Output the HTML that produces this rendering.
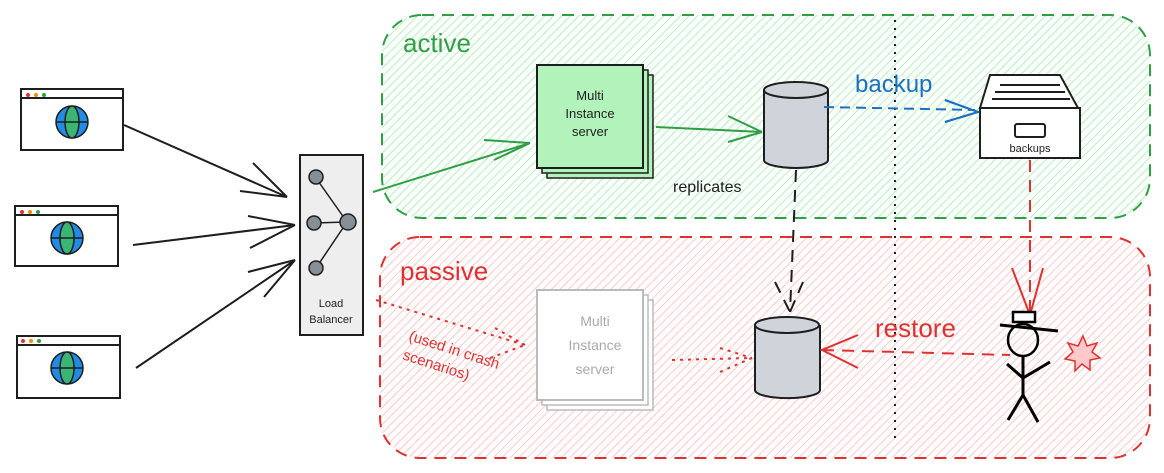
<!DOCTYPE html>
<html><head><meta charset="utf-8"><style>body{margin:0;background:#fff}svg{display:block}text{font-family:"Liberation Sans",sans-serif}</style></head><body>
<svg width="1164" height="473" viewBox="0 0 1164 473" xmlns="http://www.w3.org/2000/svg">
<defs>
<pattern id="hg" width="6" height="6" patternUnits="userSpaceOnUse" patternTransform="rotate(45)"><rect width="6" height="6" fill="#fff"/><line x1="0" y1="0" x2="0" y2="6" stroke="#b2f2bb" stroke-width="2"/></pattern>
<pattern id="hr" width="6" height="6" patternUnits="userSpaceOnUse" patternTransform="rotate(45)"><rect width="6" height="6" fill="#fff"/><line x1="0" y1="0" x2="0" y2="6" stroke="#ffc9c9" stroke-width="2"/></pattern>
</defs>
<rect x="382" y="15" width="768" height="203" rx="40" fill="url(#hg)" stroke="#2f9e44" stroke-width="2" stroke-dasharray="12 8"/>
<rect x="380" y="237" width="770" height="221" rx="40" fill="url(#hr)" stroke="#e03131" stroke-width="2" stroke-dasharray="12 8"/>
<line x1="895" y1="20" x2="895" y2="440" stroke="#1e1e1e" stroke-width="2" stroke-dasharray="2 6"/>
<text x="403" y="52" font-size="26" fill="#2f9e44">active</text>
<text x="400" y="280" font-size="26" fill="#e03131">passive</text>
<g stroke="#1e1e1e" stroke-width="2" fill="#fff">
<rect x="21" y="89" width="102" height="61"/><line x1="21" y1="98" x2="123" y2="98"/>
<rect x="15" y="206" width="103" height="60"/><line x1="15" y1="215" x2="118" y2="215"/>
<rect x="17" y="336" width="103" height="62"/><line x1="17" y1="345" x2="120" y2="345"/>
</g>
<g stroke="none">
<circle cx="28" cy="95" r="2" fill="#e03131"/><circle cx="36" cy="95" r="2" fill="#f08c00"/><circle cx="44" cy="95" r="2" fill="#2f9e44"/>
<circle cx="22" cy="212" r="2" fill="#e03131"/><circle cx="30" cy="212" r="2" fill="#f08c00"/><circle cx="38" cy="212" r="2" fill="#2f9e44"/>
<circle cx="23" cy="341" r="2" fill="#e03131"/><circle cx="31" cy="341" r="2" fill="#f08c00"/><circle cx="39" cy="341" r="2" fill="#2f9e44"/>
</g>
<g stroke="#1e1e1e" stroke-width="1.5">
<circle cx="72" cy="122" r="16" fill="#228be6"/><ellipse cx="72" cy="122" rx="7" ry="16" fill="#40c057" fill-opacity=".8"/><line x1="56" y1="122" x2="88" y2="122"/>
<circle cx="67" cy="238" r="16" fill="#228be6"/><ellipse cx="67" cy="238" rx="7" ry="16" fill="#40c057" fill-opacity=".8"/><line x1="51" y1="238" x2="83" y2="238"/>
<circle cx="67" cy="368" r="16" fill="#228be6"/><ellipse cx="67" cy="368" rx="7" ry="16" fill="#40c057" fill-opacity=".8"/><line x1="51" y1="368" x2="83" y2="368"/>
</g>
<g stroke="#1e1e1e" stroke-width="2" fill="none">
<path d="M124 125 L287 197 M253 163 L287 197 M240 191 L287 197"/>
<path d="M133 245 L295 225 M248 216 L295 225 M250 248 L295 225"/>
<path d="M136 368 L295 260 M248 272 L295 260 M264 297 L295 260"/>
</g>
<rect x="300" y="155" width="63" height="180" fill="#eee" stroke="#1e1e1e" stroke-width="2"/>
<g stroke="#1e1e1e" stroke-width="1.5" fill="#868e96">
<line x1="347" y1="222" x2="316" y2="178"/><line x1="347" y1="222" x2="314" y2="223"/><line x1="347" y1="222" x2="316" y2="268"/>
<circle cx="316" cy="177" r="7"/><circle cx="314" cy="223" r="7"/><circle cx="348" cy="222" r="8"/><circle cx="316" cy="268" r="7"/>
</g>
<text x="331" y="307" font-size="11" text-anchor="middle" fill="#1e1e1e">Load</text>
<text x="331" y="323" font-size="11" text-anchor="middle" fill="#1e1e1e">Balancer</text>
<g stroke="#2f9e44" stroke-width="2" fill="none">
<path d="M373 192 L530 143 M484 140 L530 143 M494 160 L530 143"/>
<path d="M656 127 L762 132 M728 116 L762 132 M728 142 L762 132"/>
</g>
<rect x="547" y="75" width="106" height="103" fill="#b2f2bb" stroke="#1e1e1e" stroke-width="1.5"/>
<rect x="542" y="70" width="106" height="103" fill="#b2f2bb" stroke="#1e1e1e" stroke-width="1.5"/>
<rect x="537" y="65" width="106" height="103" fill="#b2f2bb" stroke="#1e1e1e" stroke-width="2"/>
<text font-size="13" text-anchor="middle" fill="#1e1e1e"><tspan x="590" y="100">Multi</tspan><tspan x="590" y="118">Instance</tspan><tspan x="590" y="136">server</tspan></text>
<g stroke="#1e1e1e" stroke-width="2" fill="#ced4da">
<path d="M764 90 L764 160 A32 8 0 0 0 828 160 L828 90"/><ellipse cx="796" cy="90" rx="32" ry="8"/>
<path d="M755 325 L755 390 A32 8 0 0 0 820 390 L820 325"/><ellipse cx="787" cy="325" rx="32" ry="8"/>
</g>
<text x="673" y="192" font-size="16" fill="#1e1e1e">replicates</text>
<path d="M796 170 L790 312 M775 282 L790 312 M803 282 L790 312" stroke="#1e1e1e" stroke-width="2" stroke-dasharray="12 8" fill="none"/>
<path d="M824 107 L975 110 M945 100 L978 112 M945 122 L978 112" stroke="#1971c2" stroke-width="2" stroke-dasharray="10 6" fill="none"/>
<path d="M945 100 L978 112 L945 122" stroke="#1971c2" stroke-width="2" fill="none"/>
<text x="855" y="92" font-size="24" fill="#1971c2">backup</text>
<g stroke="#1e1e1e" stroke-width="2" fill="#fff">
<path d="M990 75 L1060 75 L1078 108 L980 108 Z"/>
<rect x="980" y="108" width="100" height="50"/>
<line x1="1000" y1="85" x2="1060" y2="85"/><line x1="995" y1="92" x2="1065" y2="92"/><line x1="992" y1="99" x2="1070" y2="99"/>
<rect x="1015" y="124" width="30" height="13" rx="2"/>
</g>
<text x="1030" y="152" font-size="11" text-anchor="middle" fill="#1e1e1e">backups</text>
<path d="M1030 160 L1030 312" stroke="#e03131" stroke-width="2" stroke-dasharray="12 8" fill="none"/>
<path d="M1012 268 L1030 315 L1043 268" stroke="#e03131" stroke-width="2" fill="none"/>
<rect x="547" y="300" width="106" height="110" fill="#fff" stroke="#bbb" stroke-width="1.5"/>
<rect x="542" y="295" width="106" height="110" fill="#fff" stroke="#bbb" stroke-width="1.5"/>
<rect x="537" y="290" width="106" height="110" fill="#fff" stroke="#bbb" stroke-width="2"/>
<text font-size="14" text-anchor="middle" fill="#aaa"><tspan x="595" y="326">Multi</tspan><tspan x="595" y="350">Instance</tspan><tspan x="595" y="374">server</tspan></text>
<g stroke="#e03131" stroke-width="2" fill="none" stroke-dasharray="3 5">
<path d="M376 300 L525 345 M495 328 L525 345 M490 358 L525 345"/>
<path d="M672 360 L750 358 M720 348 L752 358 M720 372 L752 358"/>
</g>
<text transform="translate(408 340) rotate(18)" font-size="15" fill="#e03131"><tspan x="0" y="0">(used in crash</tspan><tspan x="0" y="20">scenarios)</tspan></text>
<path d="M822 350 L1010 355" stroke="#e03131" stroke-width="2" stroke-dasharray="12 8" fill="none"/>
<path d="M858 335 L822 350 L858 368" stroke="#e03131" stroke-width="2" fill="none"/>
<text x="875" y="337" font-size="26" fill="#e03131">restore</text>
<g stroke="#000" stroke-width="3" fill="none">
<ellipse cx="1023" cy="340" rx="15" ry="16" stroke-width="2.5"/>
<rect x="1013" y="312" width="22" height="10" fill="#fff" stroke-width="2.5"/>
<line x1="1000" y1="325" x2="1058" y2="331"/>
<path d="M1023 356 L1023 395 M1007 364 L1023 378 L1050 362 M1023 395 L1008 420 M1023 395 L1038 422"/>
</g>
<polygon points="1083,336 1087,346 1097,343 1092,352 1100,358 1090,360 1090,370 1082,364 1075,371 1075,361 1065,359 1073,352 1068,343 1078,346" fill="#ffc9c9" stroke="#e03131" stroke-width="1.5"/>
</svg>
</body></html>
